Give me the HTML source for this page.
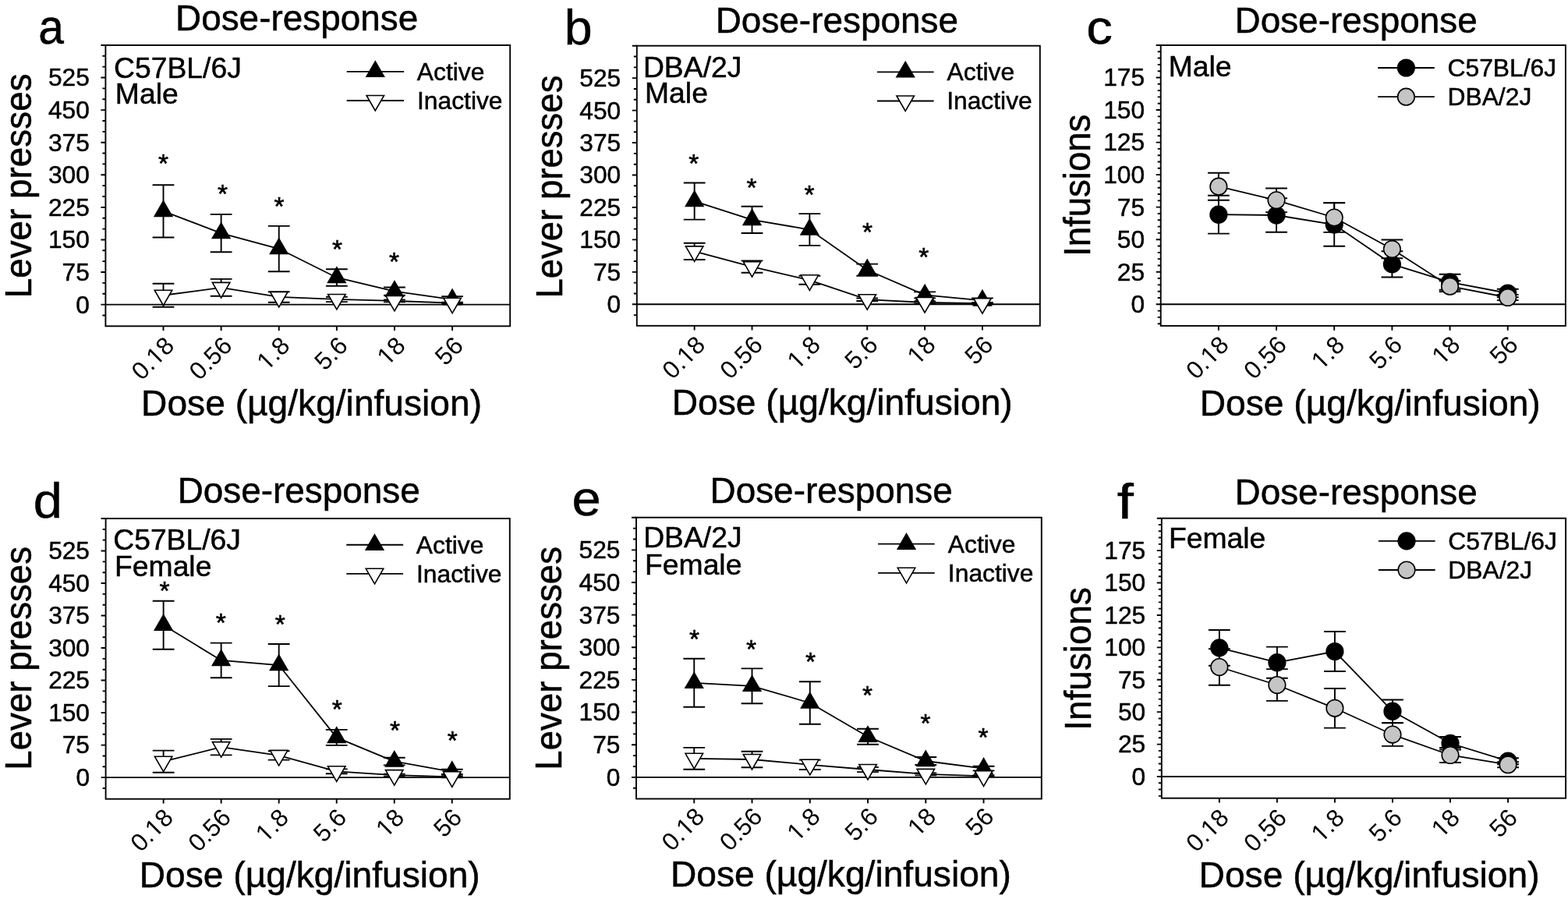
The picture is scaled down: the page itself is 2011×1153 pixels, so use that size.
<!DOCTYPE html>
<html><head><meta charset="utf-8"><title>Dose-response</title>
<style>html,body{margin:0;padding:0;background:#fff;}svg{display:block;}.w{stroke:#000;stroke-width:0.5px;}</style></head>
<body><svg width="2011" height="1153" viewBox="0 0 2011 1153" font-family="'Liberation Sans', Arial, Helvetica, sans-serif" fill="#000">
<rect width="2011" height="1153" fill="#fff"/>
<defs><clipPath id="nf0_18" clipPathUnits="userSpaceOnUse"><path d="M-300 -200H300V200H-300ZM-33.44 -3.07H-27.29V2.0H-33.44ZM-24.49 -3.07H-18.58V2.0H-24.49Z" clip-rule="evenodd"/></clipPath><clipPath id="nf1_8" clipPathUnits="userSpaceOnUse"><path d="M-300 -200H300V200H-300ZM-42.25 -3.07H-36.09V2.0H-42.25ZM-33.30 -3.07H-27.39V2.0H-33.30Z" clip-rule="evenodd"/></clipPath><clipPath id="nf18" clipPathUnits="userSpaceOnUse"><path d="M-300 -200H300V200H-300ZM-33.44 -3.07H-27.29V2.0H-33.44ZM-24.49 -3.07H-18.58V2.0H-24.49Z" clip-rule="evenodd"/></clipPath></defs>
<rect x="135.4" y="57.95" width="518.8" height="360.35" fill="none" stroke="#000" stroke-width="1.9"/>
<line x1="135.4" y1="390.6" x2="654.2" y2="390.6" stroke="#000" stroke-width="1.9"/>
<path d="M131.4 404.46H135.4M129.4 390.6H135.4M131.4 376.74H135.4M131.4 362.88H135.4M129.4 349.02H135.4M131.4 335.16H135.4M131.4 321.3H135.4M129.4 307.44H135.4M131.4 293.58H135.4M131.4 279.72H135.4M129.4 265.86H135.4M131.4 252H135.4M131.4 238.14H135.4M129.4 224.28H135.4M131.4 210.41H135.4M131.4 196.55H135.4M129.4 182.69H135.4M131.4 168.83H135.4M131.4 154.97H135.4M129.4 141.11H135.4M131.4 127.25H135.4M131.4 113.39H135.4M129.4 99.53H135.4M131.4 85.67H135.4M131.4 71.81H135.4M129.4 57.95H135.4M209.51 418.3V424.1M283.63 418.3V424.1M357.74 418.3V424.1M431.86 418.3V424.1M505.97 418.3V424.1M580.09 418.3V424.1" stroke="#000" stroke-width="1.9" fill="none"/>
<text x="114.8" y="401.5" font-size="31.7" text-anchor="end" class="w">0</text>
<text x="114.8" y="359.92" font-size="31.7" text-anchor="end" class="w">75</text>
<text x="114.8" y="318.34" font-size="31.7" text-anchor="end" class="w">150</text>
<text x="114.8" y="276.76" font-size="31.7" text-anchor="end" class="w">225</text>
<text x="114.8" y="235.18" font-size="31.7" text-anchor="end" class="w">300</text>
<text x="114.8" y="193.6" font-size="31.7" text-anchor="end" class="w">375</text>
<text x="114.8" y="152.02" font-size="31.7" text-anchor="end" class="w">450</text>
<text x="114.8" y="110.44" font-size="31.7" text-anchor="end" class="w">525</text>
<g transform="translate(225.31 445.4) rotate(-45)"><text x="0" y="0" font-size="31.7" text-anchor="end" clip-path="url(#nf0_18)">0.18</text></g>
<g transform="translate(299.43 445.4) rotate(-45)"><text x="0" y="0" font-size="31.7" text-anchor="end">0.56</text></g>
<g transform="translate(373.54 445.4) rotate(-45)"><text x="0" y="0" font-size="31.7" text-anchor="end" clip-path="url(#nf1_8)">1.8</text></g>
<g transform="translate(447.66 445.4) rotate(-45)"><text x="0" y="0" font-size="31.7" text-anchor="end">5.6</text></g>
<g transform="translate(521.77 445.4) rotate(-45)"><text x="0" y="0" font-size="31.7" text-anchor="end" clip-path="url(#nf18)">18</text></g>
<g transform="translate(595.89 445.4) rotate(-45)"><text x="0" y="0" font-size="31.7" text-anchor="end">56</text></g>
<polyline points="209.51,270.85 283.63,299.05 357.74,319.05 431.86,355.95 505.97,373.6 580.09,384.1" fill="none" stroke="#000" stroke-width="1.8" stroke-linejoin="miter"/>
<path d="M209.51 237.2V304.5M195.61 237.2H223.41M195.61 304.5H223.41M283.63 274.9V323.2M269.73 274.9H297.53M269.73 323.2H297.53M357.74 289.9V348.2M343.84 289.9H371.64M343.84 348.2H371.64M431.86 345.2V366.7M417.96 345.2H445.76M417.96 366.7H445.76M505.97 368.45V378.75M492.07 368.45H519.87M492.07 378.75H519.87M580.09 380.1V388.1M566.19 380.1H593.99M566.19 388.1H593.99" stroke="#000" stroke-width="1.9" fill="none"/>
<path d="M209.51 257.85L198.26 277.35L220.76 277.35Z" fill="#000" stroke="#000" stroke-width="1.6" stroke-linejoin="miter"/>
<path d="M283.63 286.05L272.38 305.55L294.88 305.55Z" fill="#000" stroke="#000" stroke-width="1.6" stroke-linejoin="miter"/>
<path d="M357.74 306.05L346.49 325.55L368.99 325.55Z" fill="#000" stroke="#000" stroke-width="1.6" stroke-linejoin="miter"/>
<path d="M431.86 342.95L420.61 362.45L443.11 362.45Z" fill="#000" stroke="#000" stroke-width="1.6" stroke-linejoin="miter"/>
<path d="M505.97 360.6L494.72 380.1L517.22 380.1Z" fill="#000" stroke="#000" stroke-width="1.6" stroke-linejoin="miter"/>
<path d="M580.09 371.1L568.84 390.6L591.34 390.6Z" fill="#000" stroke="#000" stroke-width="1.6" stroke-linejoin="miter"/>
<polyline points="209.51,378.75 283.63,368.85 357.74,380.95 431.86,383.95 505.97,385.9 580.09,388.7" fill="none" stroke="#000" stroke-width="1.8" stroke-linejoin="miter"/>
<path d="M209.51 363.8V393.7M195.61 363.8H223.41M195.61 393.7H223.41M283.63 357.9V379.8M269.73 357.9H297.53M269.73 379.8H297.53M357.74 374.2V387.7M343.84 374.2H371.64M343.84 387.7H371.64M431.86 380.8V387.1M417.96 380.8H445.76M417.96 387.1H445.76M505.97 384.4V387.4M492.07 384.4H519.87M492.07 387.4H519.87M580.09 387.7V389.7M566.19 387.7H593.99M566.19 389.7H593.99" stroke="#000" stroke-width="1.9" fill="none"/>
<path d="M209.51 391.75L198.26 372.25L220.76 372.25Z" fill="#fff" stroke="#000" stroke-width="1.6" stroke-linejoin="miter"/>
<path d="M283.63 381.85L272.38 362.35L294.88 362.35Z" fill="#fff" stroke="#000" stroke-width="1.6" stroke-linejoin="miter"/>
<path d="M357.74 393.95L346.49 374.45L368.99 374.45Z" fill="#fff" stroke="#000" stroke-width="1.6" stroke-linejoin="miter"/>
<path d="M431.86 396.95L420.61 377.45L443.11 377.45Z" fill="#fff" stroke="#000" stroke-width="1.6" stroke-linejoin="miter"/>
<path d="M505.97 398.9L494.72 379.4L517.22 379.4Z" fill="#fff" stroke="#000" stroke-width="1.6" stroke-linejoin="miter"/>
<path d="M580.09 401.7L568.84 382.2L591.34 382.2Z" fill="#fff" stroke="#000" stroke-width="1.6" stroke-linejoin="miter"/>
<text x="209.55" y="220.79" font-size="33.5" text-anchor="middle" stroke="#000" stroke-width="0.6">*</text>
<text x="285.5" y="260.49" font-size="33.5" text-anchor="middle" stroke="#000" stroke-width="0.6">*</text>
<text x="357.9" y="275.99" font-size="33.5" text-anchor="middle" stroke="#000" stroke-width="0.6">*</text>
<text x="432.5" y="330.99" font-size="33.5" text-anchor="middle" stroke="#000" stroke-width="0.6">*</text>
<text x="505.4" y="346.99" font-size="33.5" text-anchor="middle" stroke="#000" stroke-width="0.6">*</text>
<text x="0" y="0" font-size="62.5" class="w" transform="matrix(0.9401 0 0 1.0076 49.36 55.96)">a</text>
<text x="225.03" y="39.3" font-size="45.9" class="w">Dose-response</text>
<text x="181.11" y="532.6" font-size="46.15" class="w">Dose (µg/kg/infusion)</text>
<text x="0" y="0" font-size="46.0" class="w" transform="translate(39.80 382.36) rotate(-90) scale(0.9969 1.0617)">Lever presses</text>
<text x="146.01" y="99.9" font-size="37.3" class="w">C57BL/6J</text>
<text x="147.84" y="132.8" font-size="37.3" class="w">Male</text>
<line x1="444.7" y1="91.8" x2="518.1" y2="91.8" stroke="#000" stroke-width="1.8"/>
<path d="M481.3 78.8L470.05 98.3L492.55 98.3Z" fill="#000" stroke="#000" stroke-width="1.6" stroke-linejoin="miter"/>
<text x="534.84" y="102.85" font-size="31.8" class="w">Active</text>
<line x1="444.7" y1="129" x2="518.1" y2="129" stroke="#000" stroke-width="1.8"/>
<path d="M481.3 142L470.05 122.5L492.55 122.5Z" fill="#fff" stroke="#000" stroke-width="1.6" stroke-linejoin="miter"/>
<text x="534.97" y="139.9" font-size="31.8" class="w">Inactive</text>
<rect x="816.8" y="58.7" width="517" height="359.1" fill="none" stroke="#000" stroke-width="1.9"/>
<line x1="816.8" y1="390.3" x2="1333.8" y2="390.3" stroke="#000" stroke-width="1.9"/>
<path d="M812.8 404.12H816.8M810.8 390.3H816.8M812.8 376.48H816.8M812.8 362.67H816.8M810.8 348.85H816.8M812.8 335.03H816.8M812.8 321.22H816.8M810.8 307.4H816.8M812.8 293.58H816.8M812.8 279.77H816.8M810.8 265.95H816.8M812.8 252.13H816.8M812.8 238.32H816.8M810.8 224.5H816.8M812.8 210.68H816.8M812.8 196.87H816.8M810.8 183.05H816.8M812.8 169.23H816.8M812.8 155.42H816.8M810.8 141.6H816.8M812.8 127.78H816.8M812.8 113.97H816.8M810.8 100.15H816.8M812.8 86.33H816.8M812.8 72.52H816.8M810.8 58.7H816.8M890.66 417.8V423.6M964.51 417.8V423.6M1038.37 417.8V423.6M1112.23 417.8V423.6M1186.09 417.8V423.6M1259.94 417.8V423.6" stroke="#000" stroke-width="1.9" fill="none"/>
<text x="796.2" y="401.2" font-size="31.7" text-anchor="end" class="w">0</text>
<text x="796.2" y="359.75" font-size="31.7" text-anchor="end" class="w">75</text>
<text x="796.2" y="318.3" font-size="31.7" text-anchor="end" class="w">150</text>
<text x="796.2" y="276.85" font-size="31.7" text-anchor="end" class="w">225</text>
<text x="796.2" y="235.4" font-size="31.7" text-anchor="end" class="w">300</text>
<text x="796.2" y="193.95" font-size="31.7" text-anchor="end" class="w">375</text>
<text x="796.2" y="152.5" font-size="31.7" text-anchor="end" class="w">450</text>
<text x="796.2" y="111.05" font-size="31.7" text-anchor="end" class="w">525</text>
<g transform="translate(906.16 444.2) rotate(-45)"><text x="0" y="0" font-size="31.7" text-anchor="end" clip-path="url(#nf0_18)">0.18</text></g>
<g transform="translate(980.01 444.2) rotate(-45)"><text x="0" y="0" font-size="31.7" text-anchor="end">0.56</text></g>
<g transform="translate(1053.87 444.2) rotate(-45)"><text x="0" y="0" font-size="31.7" text-anchor="end" clip-path="url(#nf1_8)">1.8</text></g>
<g transform="translate(1127.73 444.2) rotate(-45)"><text x="0" y="0" font-size="31.7" text-anchor="end">5.6</text></g>
<g transform="translate(1201.59 444.2) rotate(-45)"><text x="0" y="0" font-size="31.7" text-anchor="end" clip-path="url(#nf18)">18</text></g>
<g transform="translate(1275.44 444.2) rotate(-45)"><text x="0" y="0" font-size="31.7" text-anchor="end">56</text></g>
<polyline points="890.66,258.05 964.51,281.85 1038.37,294.5 1112.23,346.2 1186.09,378.4 1259.94,385.4" fill="none" stroke="#000" stroke-width="1.8" stroke-linejoin="miter"/>
<path d="M890.66 234.5V281.6M876.76 234.5H904.56M876.76 281.6H904.56M964.51 264.7V299M950.61 264.7H978.41M950.61 299H978.41M1038.37 274.1V314.9M1024.47 274.1H1052.27M1024.47 314.9H1052.27M1112.23 338.6V353.8M1098.33 338.6H1126.13M1098.33 353.8H1126.13M1186.09 374.4V382.4M1172.19 374.4H1199.99M1172.19 382.4H1199.99M1259.94 382.4V388.4M1246.04 382.4H1273.84M1246.04 388.4H1273.84" stroke="#000" stroke-width="1.9" fill="none"/>
<path d="M890.66 245.05L879.41 264.55L901.91 264.55Z" fill="#000" stroke="#000" stroke-width="1.6" stroke-linejoin="miter"/>
<path d="M964.51 268.85L953.26 288.35L975.76 288.35Z" fill="#000" stroke="#000" stroke-width="1.6" stroke-linejoin="miter"/>
<path d="M1038.37 281.5L1027.12 301L1049.62 301Z" fill="#000" stroke="#000" stroke-width="1.6" stroke-linejoin="miter"/>
<path d="M1112.23 333.2L1100.98 352.7L1123.48 352.7Z" fill="#000" stroke="#000" stroke-width="1.6" stroke-linejoin="miter"/>
<path d="M1186.09 365.4L1174.84 384.9L1197.34 384.9Z" fill="#000" stroke="#000" stroke-width="1.6" stroke-linejoin="miter"/>
<path d="M1259.94 372.4L1248.69 391.9L1271.19 391.9Z" fill="#000" stroke="#000" stroke-width="1.6" stroke-linejoin="miter"/>
<polyline points="890.66,322.35 964.51,342.1 1038.37,359.3 1112.23,384.2 1186.09,388 1259.94,389.2" fill="none" stroke="#000" stroke-width="1.8" stroke-linejoin="miter"/>
<path d="M890.66 311.7V333M876.76 311.7H904.56M876.76 333H904.56M964.51 334.4V349.8M950.61 334.4H978.41M950.61 349.8H978.41M1038.37 353.8V364.8M1024.47 353.8H1052.27M1024.47 364.8H1052.27M1112.23 382.45V385.95M1098.33 382.45H1126.13M1098.33 385.95H1126.13M1186.09 386.5V389.5M1172.19 386.5H1199.99M1172.19 389.5H1199.99M1259.94 388.2V390.2M1246.04 388.2H1273.84M1246.04 390.2H1273.84" stroke="#000" stroke-width="1.9" fill="none"/>
<path d="M890.66 335.35L879.41 315.85L901.91 315.85Z" fill="#fff" stroke="#000" stroke-width="1.6" stroke-linejoin="miter"/>
<path d="M964.51 355.1L953.26 335.6L975.76 335.6Z" fill="#fff" stroke="#000" stroke-width="1.6" stroke-linejoin="miter"/>
<path d="M1038.37 372.3L1027.12 352.8L1049.62 352.8Z" fill="#fff" stroke="#000" stroke-width="1.6" stroke-linejoin="miter"/>
<path d="M1112.23 397.2L1100.98 377.7L1123.48 377.7Z" fill="#fff" stroke="#000" stroke-width="1.6" stroke-linejoin="miter"/>
<path d="M1186.09 401L1174.84 381.5L1197.34 381.5Z" fill="#fff" stroke="#000" stroke-width="1.6" stroke-linejoin="miter"/>
<path d="M1259.94 402.2L1248.69 382.7L1271.19 382.7Z" fill="#fff" stroke="#000" stroke-width="1.6" stroke-linejoin="miter"/>
<text x="889.8" y="221.19" font-size="33.5" text-anchor="middle" stroke="#000" stroke-width="0.6">*</text>
<text x="964.1" y="251.79" font-size="33.5" text-anchor="middle" stroke="#000" stroke-width="0.6">*</text>
<text x="1037.9" y="260.69" font-size="33.5" text-anchor="middle" stroke="#000" stroke-width="0.6">*</text>
<text x="1112.6" y="308.79" font-size="33.5" text-anchor="middle" stroke="#000" stroke-width="0.6">*</text>
<text x="1184.8" y="341.09" font-size="33.5" text-anchor="middle" stroke="#000" stroke-width="0.6">*</text>
<text x="0" y="0" font-size="62.5" class="w" transform="matrix(1.0318 0 0 1.0044 723.74 57.49)">b</text>
<text x="917.73" y="42.4" font-size="45.9" class="w">Dose-response</text>
<text x="861.81" y="532.3" font-size="46.15" class="w">Dose (µg/kg/infusion)</text>
<text x="0" y="0" font-size="46.0" class="w" transform="translate(720.80 382.54) rotate(-90) scale(0.9902 1.0332)">Lever presses</text>
<text x="824.94" y="98.9" font-size="37.3" class="w">DBA/2J</text>
<text x="827.04" y="131.7" font-size="37.3" class="w">Male</text>
<line x1="1124.9" y1="92.3" x2="1197.6" y2="92.3" stroke="#000" stroke-width="1.8"/>
<path d="M1161.2 79.3L1149.95 98.8L1172.45 98.8Z" fill="#000" stroke="#000" stroke-width="1.6" stroke-linejoin="miter"/>
<text x="1214.54" y="102.85" font-size="31.8" class="w">Active</text>
<line x1="1124.9" y1="129.5" x2="1197.6" y2="129.5" stroke="#000" stroke-width="1.8"/>
<path d="M1161.2 142.5L1149.95 123L1172.45 123Z" fill="#fff" stroke="#000" stroke-width="1.6" stroke-linejoin="miter"/>
<text x="1214.17" y="139.8" font-size="31.8" class="w">Inactive</text>
<rect x="1488.7" y="57.95" width="519.2" height="359.95" fill="none" stroke="#000" stroke-width="1.9"/>
<line x1="1488.7" y1="390.3" x2="2007.9" y2="390.3" stroke="#000" stroke-width="1.9"/>
<path d="M1484.7 415.23H1488.7M1484.7 406.92H1488.7M1484.7 398.61H1488.7M1482.7 390.3H1488.7M1484.7 381.99H1488.7M1484.7 373.68H1488.7M1484.7 365.37H1488.7M1484.7 357.06H1488.7M1482.7 348.76H1488.7M1484.7 340.45H1488.7M1484.7 332.14H1488.7M1484.7 323.83H1488.7M1484.7 315.52H1488.7M1482.7 307.21H1488.7M1484.7 298.9H1488.7M1484.7 290.6H1488.7M1484.7 282.29H1488.7M1484.7 273.98H1488.7M1482.7 265.67H1488.7M1484.7 257.36H1488.7M1484.7 249.05H1488.7M1484.7 240.74H1488.7M1484.7 232.43H1488.7M1482.7 224.12H1488.7M1484.7 215.82H1488.7M1484.7 207.51H1488.7M1484.7 199.2H1488.7M1484.7 190.89H1488.7M1482.7 182.58H1488.7M1484.7 174.27H1488.7M1484.7 165.96H1488.7M1484.7 157.66H1488.7M1484.7 149.35H1488.7M1482.7 141.04H1488.7M1484.7 132.73H1488.7M1484.7 124.42H1488.7M1484.7 116.11H1488.7M1484.7 107.8H1488.7M1482.7 99.49H1488.7M1484.7 91.19H1488.7M1484.7 82.88H1488.7M1484.7 74.57H1488.7M1484.7 66.26H1488.7M1482.7 57.95H1488.7M1562.87 417.9V423.7M1637.04 417.9V423.7M1711.21 417.9V423.7M1785.39 417.9V423.7M1859.56 417.9V423.7M1933.73 417.9V423.7" stroke="#000" stroke-width="1.9" fill="none"/>
<text x="1468.1" y="401.2" font-size="31.7" text-anchor="end" class="w">0</text>
<text x="1468.1" y="359.66" font-size="31.7" text-anchor="end" class="w">25</text>
<text x="1468.1" y="318.12" font-size="31.7" text-anchor="end" class="w">50</text>
<text x="1468.1" y="276.57" font-size="31.7" text-anchor="end" class="w">75</text>
<text x="1468.1" y="235.03" font-size="31.7" text-anchor="end" class="w">100</text>
<text x="1468.1" y="193.49" font-size="31.7" text-anchor="end" class="w">125</text>
<text x="1468.1" y="151.94" font-size="31.7" text-anchor="end" class="w">150</text>
<text x="1468.1" y="110.4" font-size="31.7" text-anchor="end" class="w">175</text>
<g transform="translate(1577.77 444.3) rotate(-45)"><text x="0" y="0" font-size="31.7" text-anchor="end" clip-path="url(#nf0_18)">0.18</text></g>
<g transform="translate(1651.94 444.3) rotate(-45)"><text x="0" y="0" font-size="31.7" text-anchor="end">0.56</text></g>
<g transform="translate(1726.11 444.3) rotate(-45)"><text x="0" y="0" font-size="31.7" text-anchor="end" clip-path="url(#nf1_8)">1.8</text></g>
<g transform="translate(1800.29 444.3) rotate(-45)"><text x="0" y="0" font-size="31.7" text-anchor="end">5.6</text></g>
<g transform="translate(1874.46 444.3) rotate(-45)"><text x="0" y="0" font-size="31.7" text-anchor="end" clip-path="url(#nf18)">18</text></g>
<g transform="translate(1948.63 444.3) rotate(-45)"><text x="0" y="0" font-size="31.7" text-anchor="end">56</text></g>
<polyline points="1562.87,275.2 1637.04,276 1711.21,288 1785.39,338.9 1859.56,361.8 1933.73,376" fill="none" stroke="#000" stroke-width="1.8" stroke-linejoin="miter"/>
<path d="M1562.87 250.8V299.6M1548.97 250.8H1576.77M1548.97 299.6H1576.77M1637.04 254.3V297.7M1623.14 254.3H1650.94M1623.14 297.7H1650.94M1711.21 260.2V315.8M1697.31 260.2H1725.11M1697.31 315.8H1725.11M1785.39 322.3V355.5M1771.49 322.3H1799.29M1771.49 355.5H1799.29M1859.56 351.8V371.8M1845.66 351.8H1873.46M1845.66 371.8H1873.46M1933.73 370.75V381.25M1919.83 370.75H1947.63M1919.83 381.25H1947.63" stroke="#000" stroke-width="1.9" fill="none"/>
<circle cx="1562.87" cy="275.2" r="10.8" fill="#000" stroke="#000" stroke-width="1.6"/>
<circle cx="1637.04" cy="276" r="10.8" fill="#000" stroke="#000" stroke-width="1.6"/>
<circle cx="1711.21" cy="288" r="10.8" fill="#000" stroke="#000" stroke-width="1.6"/>
<circle cx="1785.39" cy="338.9" r="10.8" fill="#000" stroke="#000" stroke-width="1.6"/>
<circle cx="1859.56" cy="361.8" r="10.8" fill="#000" stroke="#000" stroke-width="1.6"/>
<circle cx="1933.73" cy="376" r="10.8" fill="#000" stroke="#000" stroke-width="1.6"/>
<polyline points="1562.87,239.2 1637.04,256.8 1711.21,279 1785.39,319.4 1859.56,367.2 1933.73,381.5" fill="none" stroke="#000" stroke-width="1.8" stroke-linejoin="miter"/>
<path d="M1562.87 221.7V256.7M1548.97 221.7H1576.77M1548.97 256.7H1576.77M1637.04 241.5V272.1M1623.14 241.5H1650.94M1623.14 272.1H1650.94M1711.21 260.1V297.9M1697.31 260.1H1725.11M1697.31 297.9H1725.11M1785.39 307.5V331.3M1771.49 307.5H1799.29M1771.49 331.3H1799.29M1859.56 360.3V374.1M1845.66 360.3H1873.46M1845.66 374.1H1873.46M1933.73 377.85V385.15M1919.83 377.85H1947.63M1919.83 385.15H1947.63" stroke="#000" stroke-width="1.9" fill="none"/>
<circle cx="1562.87" cy="239.2" r="10.8" fill="#c5c5c5" stroke="#000" stroke-width="1.6"/>
<circle cx="1637.04" cy="256.8" r="10.8" fill="#c5c5c5" stroke="#000" stroke-width="1.6"/>
<circle cx="1711.21" cy="279" r="10.8" fill="#c5c5c5" stroke="#000" stroke-width="1.6"/>
<circle cx="1785.39" cy="319.4" r="10.8" fill="#c5c5c5" stroke="#000" stroke-width="1.6"/>
<circle cx="1859.56" cy="367.2" r="10.8" fill="#c5c5c5" stroke="#000" stroke-width="1.6"/>
<circle cx="1933.73" cy="381.5" r="10.8" fill="#c5c5c5" stroke="#000" stroke-width="1.6"/>
<text x="0" y="0" font-size="62.5" class="w" transform="matrix(1.0762 0 0 0.9813 1393.24 55.80)">c</text>
<text x="1583.53" y="41.6" font-size="45.9" class="w">Dose-response</text>
<text x="1538.81" y="533" font-size="46.15" class="w">Dose (µg/kg/infusion)</text>
<text x="0" y="0" font-size="46.0" class="w" transform="translate(1397.80 329.01) rotate(-90) scale(0.9910 1.0522)">Infusions</text>
<text x="1498.74" y="97.9" font-size="37.3" class="w">Male</text>
<line x1="1767.2" y1="87" x2="1839.8" y2="87" stroke="#000" stroke-width="1.8"/>
<circle cx="1803.4" cy="87" r="10.8" fill="#000" stroke="#000" stroke-width="1.6"/>
<text x="1856.49" y="97.7" font-size="31.8" class="w">C57BL/6J</text>
<line x1="1767.2" y1="124.2" x2="1839.8" y2="124.2" stroke="#000" stroke-width="1.8"/>
<circle cx="1803.4" cy="124.2" r="10.8" fill="#c5c5c5" stroke="#000" stroke-width="1.6"/>
<text x="1856.49" y="134.7" font-size="31.8" class="w">DBA/2J</text>
<rect x="135.6" y="665" width="518.2" height="359.7" fill="none" stroke="#000" stroke-width="1.9"/>
<line x1="135.6" y1="997.1" x2="653.8" y2="997.1" stroke="#000" stroke-width="1.9"/>
<path d="M131.6 1010.94H135.6M129.6 997.1H135.6M131.6 983.26H135.6M131.6 969.43H135.6M129.6 955.59H135.6M131.6 941.75H135.6M131.6 927.91H135.6M129.6 914.08H135.6M131.6 900.24H135.6M131.6 886.4H135.6M129.6 872.56H135.6M131.6 858.73H135.6M131.6 844.89H135.6M129.6 831.05H135.6M131.6 817.21H135.6M131.6 803.38H135.6M129.6 789.54H135.6M131.6 775.7H135.6M131.6 761.86H135.6M129.6 748.03H135.6M131.6 734.19H135.6M131.6 720.35H135.6M129.6 706.51H135.6M131.6 692.67H135.6M131.6 678.84H135.6M129.6 665H135.6M209.63 1024.7V1030.5M283.66 1024.7V1030.5M357.69 1024.7V1030.5M431.71 1024.7V1030.5M505.74 1024.7V1030.5M579.77 1024.7V1030.5" stroke="#000" stroke-width="1.9" fill="none"/>
<text x="115" y="1008" font-size="31.7" text-anchor="end" class="w">0</text>
<text x="115" y="966.49" font-size="31.7" text-anchor="end" class="w">75</text>
<text x="115" y="924.98" font-size="31.7" text-anchor="end" class="w">150</text>
<text x="115" y="883.47" font-size="31.7" text-anchor="end" class="w">225</text>
<text x="115" y="841.95" font-size="31.7" text-anchor="end" class="w">300</text>
<text x="115" y="800.44" font-size="31.7" text-anchor="end" class="w">375</text>
<text x="115" y="758.93" font-size="31.7" text-anchor="end" class="w">450</text>
<text x="115" y="717.42" font-size="31.7" text-anchor="end" class="w">525</text>
<g transform="translate(224.03 1050.5) rotate(-45)"><text x="0" y="0" font-size="31.7" text-anchor="end" clip-path="url(#nf0_18)">0.18</text></g>
<g transform="translate(298.06 1050.5) rotate(-45)"><text x="0" y="0" font-size="31.7" text-anchor="end">0.56</text></g>
<g transform="translate(372.09 1050.5) rotate(-45)"><text x="0" y="0" font-size="31.7" text-anchor="end" clip-path="url(#nf1_8)">1.8</text></g>
<g transform="translate(446.11 1050.5) rotate(-45)"><text x="0" y="0" font-size="31.7" text-anchor="end">5.6</text></g>
<g transform="translate(520.14 1050.5) rotate(-45)"><text x="0" y="0" font-size="31.7" text-anchor="end" clip-path="url(#nf18)">18</text></g>
<g transform="translate(594.17 1050.5) rotate(-45)"><text x="0" y="0" font-size="31.7" text-anchor="end">56</text></g>
<polyline points="209.63,801.7 283.66,846.95 357.69,853.05 431.71,945.9 505.74,976.55 579.77,989.9" fill="none" stroke="#000" stroke-width="1.8" stroke-linejoin="miter"/>
<path d="M209.63 770.7V832.7M195.73 770.7H223.53M195.73 832.7H223.53M283.66 824.6V869.3M269.76 824.6H297.56M269.76 869.3H297.56M357.69 826V880.1M343.79 826H371.59M343.79 880.1H371.59M431.71 935.9V955.9M417.81 935.9H445.61M417.81 955.9H445.61M505.74 971.7V981.4M491.84 971.7H519.64M491.84 981.4H519.64M579.77 986.8V993M565.87 986.8H593.67M565.87 993H593.67" stroke="#000" stroke-width="1.9" fill="none"/>
<path d="M209.63 788.7L198.38 808.2L220.88 808.2Z" fill="#000" stroke="#000" stroke-width="1.6" stroke-linejoin="miter"/>
<path d="M283.66 833.95L272.41 853.45L294.91 853.45Z" fill="#000" stroke="#000" stroke-width="1.6" stroke-linejoin="miter"/>
<path d="M357.69 840.05L346.44 859.55L368.94 859.55Z" fill="#000" stroke="#000" stroke-width="1.6" stroke-linejoin="miter"/>
<path d="M431.71 932.9L420.46 952.4L442.96 952.4Z" fill="#000" stroke="#000" stroke-width="1.6" stroke-linejoin="miter"/>
<path d="M505.74 963.55L494.49 983.05L516.99 983.05Z" fill="#000" stroke="#000" stroke-width="1.6" stroke-linejoin="miter"/>
<path d="M579.77 976.9L568.52 996.4L591.02 996.4Z" fill="#000" stroke="#000" stroke-width="1.6" stroke-linejoin="miter"/>
<polyline points="209.63,976.7 283.66,958.15 357.69,968.9 431.71,989.3 505.74,994.1 579.77,996.3" fill="none" stroke="#000" stroke-width="1.8" stroke-linejoin="miter"/>
<path d="M209.63 962.6V990.8M195.73 962.6H223.53M195.73 990.8H223.53M283.66 947.9V968.4M269.76 947.9H297.56M269.76 968.4H297.56M357.69 963.2V974.6M343.79 963.2H371.59M343.79 974.6H371.59M431.71 986.4V992.2M417.81 986.4H445.61M417.81 992.2H445.61M505.74 992.6V995.6M491.84 992.6H519.64M491.84 995.6H519.64M579.77 995.3V997.3M565.87 995.3H593.67M565.87 997.3H593.67" stroke="#000" stroke-width="1.9" fill="none"/>
<path d="M209.63 989.7L198.38 970.2L220.88 970.2Z" fill="#fff" stroke="#000" stroke-width="1.6" stroke-linejoin="miter"/>
<path d="M283.66 971.15L272.41 951.65L294.91 951.65Z" fill="#fff" stroke="#000" stroke-width="1.6" stroke-linejoin="miter"/>
<path d="M357.69 981.9L346.44 962.4L368.94 962.4Z" fill="#fff" stroke="#000" stroke-width="1.6" stroke-linejoin="miter"/>
<path d="M431.71 1002.3L420.46 982.8L442.96 982.8Z" fill="#fff" stroke="#000" stroke-width="1.6" stroke-linejoin="miter"/>
<path d="M505.74 1007.1L494.49 987.6L516.99 987.6Z" fill="#fff" stroke="#000" stroke-width="1.6" stroke-linejoin="miter"/>
<path d="M579.77 1009.3L568.52 989.8L591.02 989.8Z" fill="#fff" stroke="#000" stroke-width="1.6" stroke-linejoin="miter"/>
<text x="211.1" y="768.89" font-size="33.5" text-anchor="middle" stroke="#000" stroke-width="0.6">*</text>
<text x="283.2" y="810.09" font-size="33.5" text-anchor="middle" stroke="#000" stroke-width="0.6">*</text>
<text x="359.2" y="811.69" font-size="33.5" text-anchor="middle" stroke="#000" stroke-width="0.6">*</text>
<text x="432.2" y="920.69" font-size="33.5" text-anchor="middle" stroke="#000" stroke-width="0.6">*</text>
<text x="506.6" y="947.79" font-size="33.5" text-anchor="middle" stroke="#000" stroke-width="0.6">*</text>
<text x="580.3" y="961.19" font-size="33.5" text-anchor="middle" stroke="#000" stroke-width="0.6">*</text>
<text x="0" y="0" font-size="62.5" class="w" transform="matrix(1.0674 0 0 0.9957 42.80 664.39)">d</text>
<text x="227.63" y="644.8" font-size="45.9" class="w">Dose-response</text>
<text x="178.81" y="1138" font-size="46.15" class="w">Dose (µg/kg/infusion)</text>
<text x="0" y="0" font-size="46.0" class="w" transform="translate(40.30 987.65) rotate(-90) scale(0.9927 1.0554)">Lever presses</text>
<text x="145.21" y="704.9" font-size="37.3" class="w">C57BL/6J</text>
<text x="147.04" y="738.8" font-size="37.3" class="w">Female</text>
<line x1="444.3" y1="698.75" x2="517.1" y2="698.75" stroke="#000" stroke-width="1.8"/>
<path d="M480.5 685.75L469.25 705.25L491.75 705.25Z" fill="#000" stroke="#000" stroke-width="1.6" stroke-linejoin="miter"/>
<text x="533.84" y="710" font-size="31.8" class="w">Active</text>
<line x1="444.3" y1="735.8" x2="517.1" y2="735.8" stroke="#000" stroke-width="1.8"/>
<path d="M480.5 748.8L469.25 729.3L491.75 729.3Z" fill="#fff" stroke="#000" stroke-width="1.6" stroke-linejoin="miter"/>
<text x="533.97" y="746.9" font-size="31.8" class="w">Inactive</text>
<rect x="816" y="663.7" width="519.8" height="360.8" fill="none" stroke="#000" stroke-width="1.9"/>
<line x1="816" y1="996.85" x2="1335.8" y2="996.85" stroke="#000" stroke-width="1.9"/>
<path d="M812 1010.73H816M810 996.85H816M812 982.97H816M812 969.09H816M810 955.21H816M812 941.33H816M812 927.44H816M810 913.56H816M812 899.68H816M812 885.8H816M810 871.92H816M812 858.04H816M812 844.16H816M810 830.28H816M812 816.39H816M812 802.51H816M810 788.63H816M812 774.75H816M812 760.87H816M810 746.99H816M812 733.11H816M812 719.23H816M810 705.34H816M812 691.46H816M812 677.58H816M810 663.7H816M890.26 1024.5V1030.3M964.51 1024.5V1030.3M1038.77 1024.5V1030.3M1113.03 1024.5V1030.3M1187.29 1024.5V1030.3M1261.54 1024.5V1030.3" stroke="#000" stroke-width="1.9" fill="none"/>
<text x="795.4" y="1007.75" font-size="31.7" text-anchor="end" class="w">0</text>
<text x="795.4" y="966.11" font-size="31.7" text-anchor="end" class="w">75</text>
<text x="795.4" y="924.47" font-size="31.7" text-anchor="end" class="w">150</text>
<text x="795.4" y="882.82" font-size="31.7" text-anchor="end" class="w">225</text>
<text x="795.4" y="841.18" font-size="31.7" text-anchor="end" class="w">300</text>
<text x="795.4" y="799.54" font-size="31.7" text-anchor="end" class="w">375</text>
<text x="795.4" y="757.89" font-size="31.7" text-anchor="end" class="w">450</text>
<text x="795.4" y="716.25" font-size="31.7" text-anchor="end" class="w">525</text>
<g transform="translate(905.26 1049.4) rotate(-45)"><text x="0" y="0" font-size="31.7" text-anchor="end" clip-path="url(#nf0_18)">0.18</text></g>
<g transform="translate(979.51 1049.4) rotate(-45)"><text x="0" y="0" font-size="31.7" text-anchor="end">0.56</text></g>
<g transform="translate(1053.77 1049.4) rotate(-45)"><text x="0" y="0" font-size="31.7" text-anchor="end" clip-path="url(#nf1_8)">1.8</text></g>
<g transform="translate(1128.03 1049.4) rotate(-45)"><text x="0" y="0" font-size="31.7" text-anchor="end">5.6</text></g>
<g transform="translate(1202.29 1049.4) rotate(-45)"><text x="0" y="0" font-size="31.7" text-anchor="end" clip-path="url(#nf18)">18</text></g>
<g transform="translate(1276.54 1049.4) rotate(-45)"><text x="0" y="0" font-size="31.7" text-anchor="end">56</text></g>
<polyline points="890.26,875.8 964.51,879.8 1038.77,901.5 1113.03,944.75 1187.29,976 1261.54,985.6" fill="none" stroke="#000" stroke-width="1.8" stroke-linejoin="miter"/>
<path d="M890.26 844.8V906.8M876.36 844.8H904.16M876.36 906.8H904.16M964.51 857.4V902.2M950.61 857.4H978.41M950.61 902.2H978.41M1038.77 874.3V928.7M1024.87 874.3H1052.67M1024.87 928.7H1052.67M1113.03 934.7V954.8M1099.13 934.7H1126.93M1099.13 954.8H1126.93M1187.29 971V981M1173.39 971H1201.19M1173.39 981H1201.19M1261.54 982.8V988.4M1247.64 982.8H1275.44M1247.64 988.4H1275.44" stroke="#000" stroke-width="1.9" fill="none"/>
<path d="M890.26 862.8L879.01 882.3L901.51 882.3Z" fill="#000" stroke="#000" stroke-width="1.6" stroke-linejoin="miter"/>
<path d="M964.51 866.8L953.26 886.3L975.76 886.3Z" fill="#000" stroke="#000" stroke-width="1.6" stroke-linejoin="miter"/>
<path d="M1038.77 888.5L1027.52 908L1050.02 908Z" fill="#000" stroke="#000" stroke-width="1.6" stroke-linejoin="miter"/>
<path d="M1113.03 931.75L1101.78 951.25L1124.28 951.25Z" fill="#000" stroke="#000" stroke-width="1.6" stroke-linejoin="miter"/>
<path d="M1187.29 963L1176.04 982.5L1198.54 982.5Z" fill="#000" stroke="#000" stroke-width="1.6" stroke-linejoin="miter"/>
<path d="M1261.54 972.6L1250.29 992.1L1272.79 992.1Z" fill="#000" stroke="#000" stroke-width="1.6" stroke-linejoin="miter"/>
<polyline points="890.26,972.8 964.51,974 1038.77,980.8 1113.03,987 1187.29,992.9 1261.54,995.3" fill="none" stroke="#000" stroke-width="1.8" stroke-linejoin="miter"/>
<path d="M890.26 958.9V986.7M876.36 958.9H904.16M876.36 986.7H904.16M964.51 963.8V984.2M950.61 963.8H978.41M950.61 984.2H978.41M1038.77 974.6V987M1024.87 974.6H1052.67M1024.87 987H1052.67M1113.03 983.85V990.15M1099.13 983.85H1126.93M1099.13 990.15H1126.93M1187.29 991.4V994.4M1173.39 991.4H1201.19M1173.39 994.4H1201.19M1261.54 994.3V996.3M1247.64 994.3H1275.44M1247.64 996.3H1275.44" stroke="#000" stroke-width="1.9" fill="none"/>
<path d="M890.26 985.8L879.01 966.3L901.51 966.3Z" fill="#fff" stroke="#000" stroke-width="1.6" stroke-linejoin="miter"/>
<path d="M964.51 987L953.26 967.5L975.76 967.5Z" fill="#fff" stroke="#000" stroke-width="1.6" stroke-linejoin="miter"/>
<path d="M1038.77 993.8L1027.52 974.3L1050.02 974.3Z" fill="#fff" stroke="#000" stroke-width="1.6" stroke-linejoin="miter"/>
<path d="M1113.03 1000L1101.78 980.5L1124.28 980.5Z" fill="#fff" stroke="#000" stroke-width="1.6" stroke-linejoin="miter"/>
<path d="M1187.29 1005.9L1176.04 986.4L1198.54 986.4Z" fill="#fff" stroke="#000" stroke-width="1.6" stroke-linejoin="miter"/>
<path d="M1261.54 1008.3L1250.29 988.8L1272.79 988.8Z" fill="#fff" stroke="#000" stroke-width="1.6" stroke-linejoin="miter"/>
<text x="890.5" y="831.09" font-size="33.5" text-anchor="middle" stroke="#000" stroke-width="0.6">*</text>
<text x="963.4" y="844.49" font-size="33.5" text-anchor="middle" stroke="#000" stroke-width="0.6">*</text>
<text x="1039.4" y="859.79" font-size="33.5" text-anchor="middle" stroke="#000" stroke-width="0.6">*</text>
<text x="1112.6" y="903.19" font-size="33.5" text-anchor="middle" stroke="#000" stroke-width="0.6">*</text>
<text x="1187.1" y="938.99" font-size="33.5" text-anchor="middle" stroke="#000" stroke-width="0.6">*</text>
<text x="1261.1" y="957.09" font-size="33.5" text-anchor="middle" stroke="#000" stroke-width="0.6">*</text>
<text x="0" y="0" font-size="62.5" class="w" transform="matrix(1.0707 0 0 1.0193 733.46 661.18)">e</text>
<text x="910.53" y="644.8" font-size="45.9" class="w">Dose-response</text>
<text x="859.91" y="1136.9" font-size="46.15" class="w">Dose (µg/kg/infusion)</text>
<text x="0" y="0" font-size="46.0" class="w" transform="translate(720.30 987.65) rotate(-90) scale(0.9927 1.0554)">Lever presses</text>
<text x="825.14" y="701.8" font-size="37.3" class="w">DBA/2J</text>
<text x="827.04" y="736.7" font-size="37.3" class="w">Female</text>
<line x1="1126.1" y1="697.6" x2="1198.7" y2="697.6" stroke="#000" stroke-width="1.8"/>
<path d="M1162.5 684.6L1151.25 704.1L1173.75 704.1Z" fill="#000" stroke="#000" stroke-width="1.6" stroke-linejoin="miter"/>
<text x="1215.84" y="708.85" font-size="31.8" class="w">Active</text>
<line x1="1126.1" y1="734.8" x2="1198.7" y2="734.8" stroke="#000" stroke-width="1.8"/>
<path d="M1162.5 747.8L1151.25 728.3L1173.75 728.3Z" fill="#fff" stroke="#000" stroke-width="1.6" stroke-linejoin="miter"/>
<text x="1215.87" y="745.8" font-size="31.8" class="w">Inactive</text>
<rect x="1489.8" y="664.7" width="518.3" height="359" fill="none" stroke="#000" stroke-width="1.9"/>
<line x1="1489.8" y1="996" x2="2008.1" y2="996" stroke="#000" stroke-width="1.9"/>
<path d="M1485.8 1020.85H1489.8M1485.8 1012.57H1489.8M1485.8 1004.28H1489.8M1483.8 996H1489.8M1485.8 987.72H1489.8M1485.8 979.43H1489.8M1485.8 971.15H1489.8M1485.8 962.87H1489.8M1483.8 954.59H1489.8M1485.8 946.31H1489.8M1485.8 938.02H1489.8M1485.8 929.74H1489.8M1485.8 921.46H1489.8M1483.8 913.17H1489.8M1485.8 904.89H1489.8M1485.8 896.61H1489.8M1485.8 888.33H1489.8M1485.8 880.05H1489.8M1483.8 871.76H1489.8M1485.8 863.48H1489.8M1485.8 855.2H1489.8M1485.8 846.91H1489.8M1485.8 838.63H1489.8M1483.8 830.35H1489.8M1485.8 822.07H1489.8M1485.8 813.79H1489.8M1485.8 805.5H1489.8M1485.8 797.22H1489.8M1483.8 788.94H1489.8M1485.8 780.65H1489.8M1485.8 772.37H1489.8M1485.8 764.09H1489.8M1485.8 755.81H1489.8M1483.8 747.53H1489.8M1485.8 739.24H1489.8M1485.8 730.96H1489.8M1485.8 722.68H1489.8M1485.8 714.39H1489.8M1483.8 706.11H1489.8M1485.8 697.83H1489.8M1485.8 689.55H1489.8M1485.8 681.27H1489.8M1485.8 672.98H1489.8M1483.8 664.7H1489.8M1563.84 1023.7V1029.5M1637.89 1023.7V1029.5M1711.93 1023.7V1029.5M1785.97 1023.7V1029.5M1860.01 1023.7V1029.5M1934.06 1023.7V1029.5" stroke="#000" stroke-width="1.9" fill="none"/>
<text x="1469.2" y="1006.9" font-size="31.7" text-anchor="end" class="w">0</text>
<text x="1469.2" y="965.49" font-size="31.7" text-anchor="end" class="w">25</text>
<text x="1469.2" y="924.08" font-size="31.7" text-anchor="end" class="w">50</text>
<text x="1469.2" y="882.67" font-size="31.7" text-anchor="end" class="w">75</text>
<text x="1469.2" y="841.25" font-size="31.7" text-anchor="end" class="w">100</text>
<text x="1469.2" y="799.84" font-size="31.7" text-anchor="end" class="w">125</text>
<text x="1469.2" y="758.43" font-size="31.7" text-anchor="end" class="w">150</text>
<text x="1469.2" y="717.02" font-size="31.7" text-anchor="end" class="w">175</text>
<g transform="translate(1577.84 1050.7) rotate(-45)"><text x="0" y="0" font-size="31.7" text-anchor="end" clip-path="url(#nf0_18)">0.18</text></g>
<g transform="translate(1651.89 1050.7) rotate(-45)"><text x="0" y="0" font-size="31.7" text-anchor="end">0.56</text></g>
<g transform="translate(1725.93 1050.7) rotate(-45)"><text x="0" y="0" font-size="31.7" text-anchor="end" clip-path="url(#nf1_8)">1.8</text></g>
<g transform="translate(1799.97 1050.7) rotate(-45)"><text x="0" y="0" font-size="31.7" text-anchor="end">5.6</text></g>
<g transform="translate(1874.01 1050.7) rotate(-45)"><text x="0" y="0" font-size="31.7" text-anchor="end" clip-path="url(#nf18)">18</text></g>
<g transform="translate(1948.06 1050.7) rotate(-45)"><text x="0" y="0" font-size="31.7" text-anchor="end">56</text></g>
<polyline points="1563.84,830.9 1637.89,849.7 1711.93,835.5 1785.97,912.2 1860.01,953.25 1934.06,976.2" fill="none" stroke="#000" stroke-width="1.8" stroke-linejoin="miter"/>
<path d="M1563.84 808V853.8M1549.94 808H1577.74M1549.94 853.8H1577.74M1637.89 829.6V869.8M1623.99 829.6H1651.79M1623.99 869.8H1651.79M1711.93 810V861M1698.03 810H1725.83M1698.03 861H1725.83M1785.97 897.55V926.85M1772.07 897.55H1799.87M1772.07 926.85H1799.87M1860.01 944.95V961.55M1846.11 944.95H1873.91M1846.11 961.55H1873.91M1934.06 972.2V980.2M1920.16 972.2H1947.96M1920.16 980.2H1947.96" stroke="#000" stroke-width="1.9" fill="none"/>
<circle cx="1563.84" cy="830.9" r="10.8" fill="#000" stroke="#000" stroke-width="1.6"/>
<circle cx="1637.89" cy="849.7" r="10.8" fill="#000" stroke="#000" stroke-width="1.6"/>
<circle cx="1711.93" cy="835.5" r="10.8" fill="#000" stroke="#000" stroke-width="1.6"/>
<circle cx="1785.97" cy="912.2" r="10.8" fill="#000" stroke="#000" stroke-width="1.6"/>
<circle cx="1860.01" cy="953.25" r="10.8" fill="#000" stroke="#000" stroke-width="1.6"/>
<circle cx="1934.06" cy="976.2" r="10.8" fill="#000" stroke="#000" stroke-width="1.6"/>
<polyline points="1563.84,855.5 1637.89,878.5 1711.93,908.3 1785.97,942.1 1860.01,968.5 1934.06,980.7" fill="none" stroke="#000" stroke-width="1.8" stroke-linejoin="miter"/>
<path d="M1563.84 832.3V878.7M1549.94 832.3H1577.74M1549.94 878.7H1577.74M1637.89 858.15V898.85M1623.99 858.15H1651.79M1623.99 898.85H1651.79M1711.93 883V933.6M1698.03 883H1725.83M1698.03 933.6H1725.83M1785.97 927.3V956.9M1772.07 927.3H1799.87M1772.07 956.9H1799.87M1860.01 959V978M1846.11 959H1873.91M1846.11 978H1873.91M1934.06 977.2V984.2M1920.16 977.2H1947.96M1920.16 984.2H1947.96" stroke="#000" stroke-width="1.9" fill="none"/>
<circle cx="1563.84" cy="855.5" r="10.8" fill="#c5c5c5" stroke="#000" stroke-width="1.6"/>
<circle cx="1637.89" cy="878.5" r="10.8" fill="#c5c5c5" stroke="#000" stroke-width="1.6"/>
<circle cx="1711.93" cy="908.3" r="10.8" fill="#c5c5c5" stroke="#000" stroke-width="1.6"/>
<circle cx="1785.97" cy="942.1" r="10.8" fill="#c5c5c5" stroke="#000" stroke-width="1.6"/>
<circle cx="1860.01" cy="968.5" r="10.8" fill="#c5c5c5" stroke="#000" stroke-width="1.6"/>
<circle cx="1934.06" cy="980.7" r="10.8" fill="#c5c5c5" stroke="#000" stroke-width="1.6"/>
<text x="0" y="0" font-size="62.5" class="w" transform="matrix(1.2130 0 0 1.0127 1432.63 664.60)">f</text>
<text x="1583.53" y="647" font-size="45.9" class="w">Dose-response</text>
<text x="1537.61" y="1137.6" font-size="46.15" class="w">Dose (µg/kg/infusion)</text>
<text x="0" y="0" font-size="46.0" class="w" transform="translate(1399.10 936.64) rotate(-90) scale(0.9977 1.0490)">Infusions</text>
<text x="1498.94" y="702.9" font-size="37.3" class="w">Female</text>
<line x1="1767.9" y1="693.9" x2="1840.6" y2="693.9" stroke="#000" stroke-width="1.8"/>
<circle cx="1804" cy="693.9" r="10.8" fill="#000" stroke="#000" stroke-width="1.6"/>
<text x="1857.29" y="704.7" font-size="31.8" class="w">C57BL/6J</text>
<line x1="1767.9" y1="731" x2="1840.6" y2="731" stroke="#000" stroke-width="1.8"/>
<circle cx="1804" cy="731" r="10.8" fill="#c5c5c5" stroke="#000" stroke-width="1.6"/>
<text x="1857.29" y="741.7" font-size="31.8" class="w">DBA/2J</text>
</svg></body></html>
